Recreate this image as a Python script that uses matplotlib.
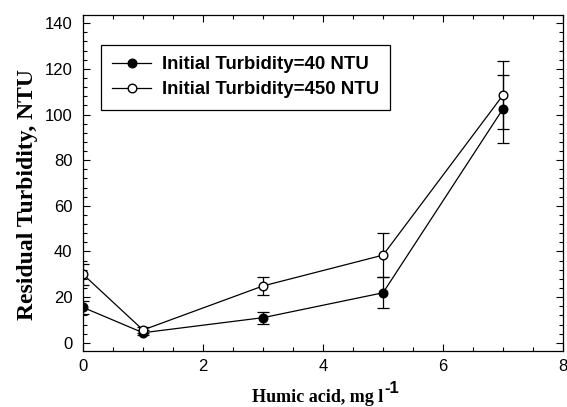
import numpy as np
import matplotlib
matplotlib.use('Agg')
import matplotlib.pyplot as plt
from matplotlib.ticker import MultipleLocator

plt.rcParams['font.family'] = 'Liberation Sans'
plt.rcParams['font.size'] = 12

# data
humic = [0, 1, 3, 5, 7]
turb_40 = [15.5, 4.4, 11.0, 21.9, 102.5]
err_40 = [3.0, 1.0, 2.7, 6.8, 14.8]
turb_450 = [30.0, 5.6, 24.9, 38.4, 108.5]
err_450 = [4.5, 1.5, 3.8, 9.8, 15.0]

fig = plt.figure(figsize=(5.67, 4.07), dpi=100)
ax = fig.add_axes([0.1464, 0.1376, 0.8466, 0.8256])

ax.errorbar(humic, turb_40, yerr=err_40, color='black', lw=0.9, marker='o',
            ms=6.2, mfc='black', mec='black', capsize=4, capthick=0.9,
            elinewidth=0.9, label='Initial Turbidity=40 NTU')
ax.errorbar(humic, turb_450, yerr=err_450, color='black', lw=0.9, marker='o',
            ms=6.2, mfc='white', mec='black', capsize=4, capthick=0.9,
            elinewidth=0.9, label='Initial Turbidity=450 NTU')

ax.set_xlim(0, 8)
ax.set_ylim(-3.6, 143.6)
ax.xaxis.set_major_locator(MultipleLocator(2))
ax.xaxis.set_minor_locator(MultipleLocator(0.5))
ax.yaxis.set_major_locator(MultipleLocator(20))
ax.yaxis.set_minor_locator(MultipleLocator(4))
ax.tick_params(which='both', direction='in', top=True, right=True, width=0.8)
ax.tick_params(which='major', length=5, labelsize=12)
ax.tick_params(which='minor', length=3)
ax.tick_params(axis='x', pad=6)
ax.tick_params(axis='y', pad=7.5)
for s in ax.spines.values():
    s.set_linewidth(0.9)

xl = ax.set_xlabel('Humic acid, mg l', family='Liberation Serif',
                   fontweight='bold', fontsize=13)
ax.xaxis.set_label_coords(0.489, -0.112)
ax.annotate('-1', xy=(1, 0.55), xycoords=xl, xytext=(1, 0), textcoords='offset points',
            fontsize=12, fontweight='bold', family='Liberation Sans', va='bottom')
ax.set_ylabel('Residual Turbidity, NTU', family='Liberation Serif',
              fontweight='bold', fontsize=17)
ax.yaxis.set_label_coords(-0.094, 0.467)

handles, labels = ax.get_legend_handles_labels()
handles = [h[0] for h in handles]
leg = ax.legend(handles, labels, loc='upper left', bbox_to_anchor=(0.038, 0.911),
                borderaxespad=0,
                prop={'family': 'Liberation Sans', 'weight': 'bold', 'size': 13.4},
                fancybox=False, edgecolor='black', framealpha=1, handlelength=2.1,
                handletextpad=0.55, labelspacing=0.45, borderpad=0.6)
leg.get_frame().set_linewidth(0.9)

fig.savefig('out.png', dpi=100)
